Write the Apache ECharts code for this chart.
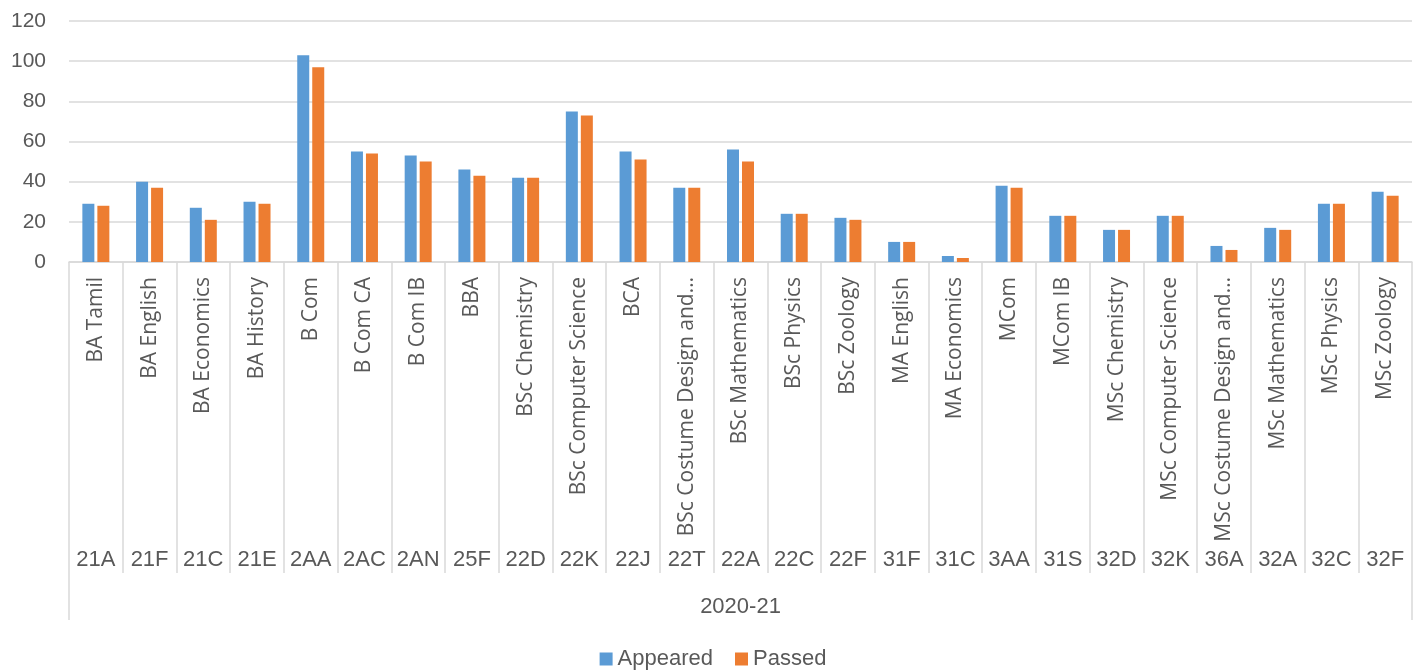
<!DOCTYPE html>
<html>
<head>
<meta charset="utf-8">
<script src="https://cdn.jsdelivr.net/npm/echarts@6/dist/echarts.min.js"></script>
<style>
  html, body { margin: 0; padding: 0; background: #fff; }
  #chart { width: 1426px; height: 671px; }
</style>
</head>
<body>
<div id="chart"></div>
<script>
var programs = ["BA Tamil", "BA English", "BA Economics", "BA History", "B Com", "B Com CA", "B Com IB", "BBA",
  "BSc Chemistry", "BSc Computer Science", "BCA", "BSc Costume Design and…", "BSc Mathematics", "BSc Physics",
  "BSc Zoology", "MA English", "MA Economics", "MCom", "MCom IB", "MSc Chemistry", "MSc Computer Science",
  "MSc Costume Design and…", "MSc Mathematics", "MSc Physics", "MSc Zoology"];
var codes = ["21A", "21F", "21C", "21E", "2AA", "2AC", "2AN", "25F", "22D", "22K", "22J", "22T", "22A",
  "22C", "22F", "31F", "31C", "3AA", "31S", "32D", "32K", "36A", "32A", "32C", "32F"];
var years = ["2020-21"];
var appeared = [29, 40, 27, 30, 103, 55, 53, 46, 42, 75, 55, 37, 56, 24, 22, 10, 3, 38, 23, 16, 23, 8, 17, 29, 35];
var passed = [28, 37, 21, 29, 97, 54, 50, 43, 42, 73, 51, 37, 50, 24, 21, 10, 2, 37, 23, 16, 23, 6, 16, 29, 33];
var yTicks = [0, 20, 40, 60, 80, 100, 120];

var lineColor = '#d9d9d9';
var textColor = '#595959';

var chart = echarts.init(document.getElementById('chart'));

var option = {
  animation: false,
  grid: { left: 69, right: 14, top: 21, bottom: 409, containLabel: false },
  legend: {
    top: 643,
    left: 'center',
    itemWidth: 13,
    itemHeight: 13,
    itemGap: 22,
    icon: 'rect',
    textStyle: { color: textColor, fontSize: 22, fontFamily: 'Liberation Sans' },
    data: ['Appeared', 'Passed']
  },
  xAxis: [
    {
      // programme names, rotated
      type: 'category',
      data: programs,
      position: 'bottom',
      axisLine: { show: true, lineStyle: { color: lineColor, width: 1.5 } },
      axisTick: { show: true, interval: 0, length: 311, lineStyle: { color: lineColor, width: 1.5 } },
      axisLabel: { interval: 0, rotate: 90, margin: 15, color: textColor, fontSize: 21, fontFamily: 'Open Sans' }
    },
    {
      // course codes
      type: 'category',
      data: codes,
      position: 'bottom',
      axisLine: { show: false },
      axisTick: { show: false },
      axisLabel: { interval: 0, margin: 287, color: textColor, fontSize: 22, fontFamily: 'Liberation Sans' }
    },
    {
      // year group
      type: 'category',
      data: years,
      position: 'bottom',
      axisLine: { show: false },
      axisTick: { show: true, interval: 0, length: 358, lineStyle: { color: lineColor, width: 1.5 } },
      axisLabel: { interval: 0, margin: 334, color: textColor, fontSize: 22, fontFamily: 'Liberation Sans' }
    }
  ],
  yAxis: {
    type: 'value',
    min: yTicks[0],
    max: yTicks[yTicks.length - 1],
    interval: 20,
    axisLine: { show: false },
    axisTick: { show: false },
    splitLine: { lineStyle: { color: lineColor, width: 1.5 } },
    axisLabel: { color: textColor, fontSize: 21, margin: 23, fontFamily: 'Liberation Sans' }
  },
  series: [
    {
      name: 'Appeared',
      type: 'bar',
      data: appeared,
      barWidth: 12,
      barGap: '25%',
      itemStyle: { color: '#5B9BD5' }
    },
    {
      name: 'Passed',
      type: 'bar',
      data: passed,
      barWidth: 12,
      itemStyle: { color: '#ED7D31' }
    }
  ]
};

chart.setOption(option);
</script>
</body>
</html>
